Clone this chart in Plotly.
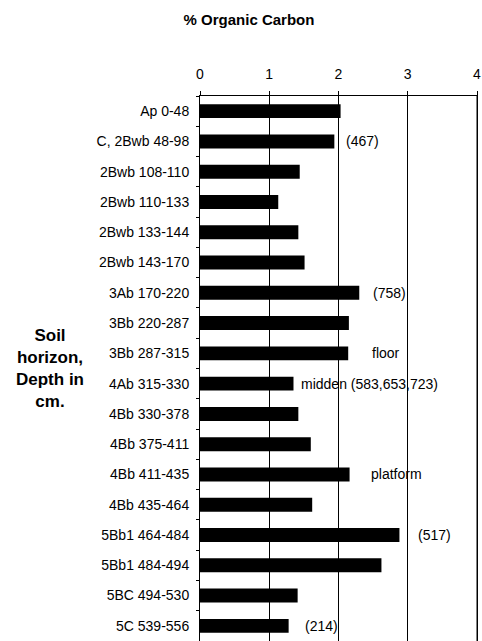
import plotly.graph_objects as go

horizons = ["Ap 0-48", "C, 2Bwb 48-98", "2Bwb 108-110", "2Bwb 110-133", "2Bwb 133-144",
            "2Bwb 143-170", "3Ab 170-220", "3Bb 220-287", "3Bb 287-315", "4Ab 315-330",
            "4Bb 330-378", "4Bb 375-411", "4Bb 411-435", "4Bb 435-464", "5Bb1 464-484",
            "5Bb1 484-494", "5BC 494-530", "5C 539-556"]
organic_carbon = [2.03, 1.94, 1.44, 1.13, 1.42, 1.51, 2.30, 2.15, 2.14, 1.35,
                  1.42, 1.60, 2.16, 1.62, 2.88, 2.62, 1.41, 1.28]

note_rows = ["C, 2Bwb 48-98", "3Ab 170-220", "3Bb 287-315", "4Ab 315-330",
             "4Bb 411-435", "5Bb1 464-484", "5C 539-556"]
note_texts = ["(467)", "(758)", "floor", "midden (583,653,723)", "platform", "(517)", "(214)"]
note_x = [2.08, 2.47, 2.46, 1.43, 2.44, 3.12, 1.49]

X_MAX = 4
FONT = "Liberation Sans, Arial, sans-serif"

fig = go.Figure()
fig.add_trace(go.Bar(
    y=horizons, x=organic_carbon, orientation="h",
    marker=dict(color="black", line=dict(width=0)),
    width=0.46, showlegend=False,
))

for r, t, x in zip(note_rows, note_texts, note_x):
    fig.add_annotation(x=x, y=r, xref="x", yref="y", text=t, showarrow=False,
                       xanchor="left", yanchor="middle",
                       font=dict(family=FONT, size=14, color="black"))

fig.add_annotation(x=-0.54, y=0.5, xref="paper", yref="paper",
                   text="<b>Soil<br>horizon,<br>Depth in<br>cm.</b>", showarrow=False,
                   xanchor="center", yanchor="middle", align="center",
                   font=dict(family=FONT, size=17, color="black"))

# right border of the plot area
fig.add_shape(type="line", xref="paper", yref="paper", x0=1, x1=1, y0=0, y1=1,
              line=dict(color="black", width=1), layer="above")

fig.update_layout(
    width=482, height=641,
    margin=dict(l=200, r=5, t=96, b=0, autoexpand=False),
    paper_bgcolor="white", plot_bgcolor="white",
    font=dict(family=FONT, size=14, color="black"),
    title=dict(text="<b>% Organic Carbon</b>", x=249/482, xanchor="center",
               y=1 - 20/641, yanchor="middle", font=dict(family=FONT, size=15, color="black")),
    bargap=0.54,
)
fig.update_xaxes(side="top", range=[0, X_MAX], dtick=1, tick0=0,
                 showgrid=True, gridcolor="black", gridwidth=1,
                 showline=True, linecolor="black", linewidth=1,
                 ticks="outside", ticklen=4, tickcolor="black", ticklabelstandoff=6,
                 ticklabeloverflow="allow",
                 zeroline=False, automargin=False,
                 tickfont=dict(family=FONT, size=14, color="black"))
fig.update_yaxes(autorange="reversed", showline=True, linecolor="black", linewidth=1,
                 mirror=True, ticks="outside", ticklen=3, tickcolor="black",
                 tickson="boundaries", showgrid=False, ticklabelstandoff=7,
                 automargin=False,
                 tickfont=dict(family=FONT, size=14, color="black"))

fig.write_html("out.html", config={"displayModeBar": False},
               post_script="document.body.style.margin='0';")
